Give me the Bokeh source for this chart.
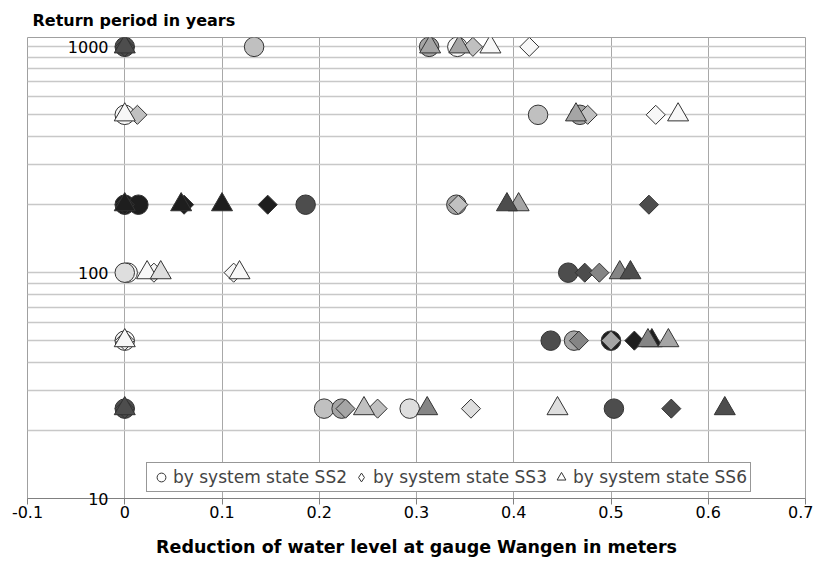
import math
from bokeh.plotting import figure
from bokeh.models import Range1d, FixedTicker, LogAxis, Legend, LegendItem, ColumnDataSource
from bokeh.transform import factor_cmap
from bokeh.embed import file_html
from bokeh.resources import INLINE

# ---------------- data ----------------
tone_levels = ["T1", "T2", "T3", "T4", "T5", "T6", "T7"]

x_ticks = [-0.1, 0, 0.1, 0.2, 0.3, 0.4, 0.5, 0.6, 0.7]
x_tick_labels = ["-0.1", "0", "0.1", "0.2", "0.3", "0.4", "0.5", "0.6", "0.7"]
y_ticks = [10, 100, 1000]
y_tick_labels = ["10", "100", "1000"]
y_minor_ticks = [20, 30, 40, 50, 60, 70, 80, 90, 200, 300, 400, 500, 600, 700, 800, 900]

# SS2 (circles)
ss2_rp = [1000, 1000, 1000, 1000, 500, 500, 500, 200, 200, 200, 200,
          100, 100, 100, 50, 50, 50, 50, 25, 25, 25, 25, 25]
ss2_x = [0.0, 0.133, 0.313, 0.342, 0.0, 0.425, 0.468, 0.0, 0.014, 0.186, 0.341,
         0.003, 0.0, 0.456, 0.0, 0.438, 0.462, 0.500, 0.0, 0.205, 0.223, 0.293, 0.503]
ss2_tone = ["T6", "T3", "T4", "T1", "T1", "T3", "T4", "T7", "T7", "T6", "T4",
            "T1", "T2", "T6", "T1", "T6", "T4", "T7", "T6", "T3", "T4", "T2", "T6"]

# SS3 (diamonds)
ss3_rp = [1000, 1000, 1000, 500, 500, 500, 200, 200, 200, 200, 200,
          100, 100, 100, 100, 50, 50, 50, 50, 25, 25, 25, 25, 25]
ss3_x = [0.0, 0.358, 0.416, 0.013, 0.476, 0.546, 0.0, 0.061, 0.147, 0.343, 0.539,
         0.030, 0.112, 0.473, 0.488, 0.0, 0.467, 0.500, 0.524, 0.0, 0.227, 0.260, 0.356, 0.562]
ss3_tone = ["T6", "T3", "T1", "T3", "T3", "T1", "T7", "T7", "T7", "T3", "T6",
            "T1", "T1", "T6", "T5", "T1", "T5", "T4", "T7", "T6", "T4", "T3", "T2", "T6"]

# SS6 (triangles)
ss6_rp = [1000, 1000, 1000, 1000, 500, 500, 500, 200, 200, 200, 200, 200,
          100, 100, 100, 100, 100, 50, 50, 50, 50, 25, 25, 25, 25, 25]
ss6_x = [0.0, 0.314, 0.344, 0.376, 0.0, 0.464, 0.569, 0.0, 0.058, 0.100, 0.405, 0.393,
         0.023, 0.037, 0.118, 0.509, 0.520, 0.0, 0.542, 0.538, 0.559, 0.0, 0.246, 0.311, 0.445, 0.617]
ss6_tone = ["T6", "T4", "T4", "T1", "T1", "T4", "T1", "T7", "T7", "T7", "T4", "T6",
            "T1", "T2", "T1", "T5", "T6", "T1", "T7", "T5", "T4", "T6", "T3", "T5", "T2", "T6"]

series_labels = ["by system state SS2", "by system state SS3", "by system state SS6"]

# ---------------- style ----------------
palette = ["#f7f7f7", "#dedede", "#c0c0c0", "#a5a5a5", "#858585", "#4d4d4d", "#1e1e1e"]
FONT = "DejaVu Sans"
EDGE = "#333333"

p = figure(width=813, height=559,
           x_range=Range1d(-0.1, 0.7), y_range=Range1d(10, 1100),
           y_axis_type="log", y_axis_location=None,
           output_backend="svg", toolbar_location=None,
           min_border_left=27, min_border_right=8,
           min_border_top=37, min_border_bottom=60)

p.background_fill_color = "white"
p.outline_line_color = "#a0a0a0"

# grids
p.xgrid.ticker = FixedTicker(ticks=x_ticks)
p.xgrid.grid_line_color = "#a8a8a8"
p.xgrid.grid_line_width = 1
p.ygrid.ticker = FixedTicker(ticks=y_ticks, minor_ticks=y_minor_ticks)
p.ygrid.grid_line_color = "#c8c8c8"
p.ygrid.grid_line_width = 1.5
p.ygrid.minor_grid_line_color = "#c8c8c8"
p.ygrid.minor_grid_line_width = 1.5

# x axis
xa = p.xaxis[0]
xa.ticker = FixedTicker(ticks=x_ticks)
xa.major_label_overrides = {t: l for t, l in zip(x_ticks, x_tick_labels)}
xa.axis_line_color = "#808080"
xa.major_tick_line_color = "#808080"
xa.major_tick_out = 6
xa.major_tick_in = 0
xa.minor_tick_line_color = None
xa.major_label_text_font = FONT
xa.major_label_text_font_size = "16px"
xa.major_label_text_color = "black"
xa.major_label_standoff = 1
xa.axis_label = "Reduction of water level at gauge Wangen in meters"
xa.axis_label_text_font = FONT
xa.axis_label_text_font_size = "17.5px"
xa.axis_label_text_font_style = "bold"
xa.axis_label_text_color = "black"
xa.axis_label_standoff = 16

# y axis: left panel, labels pulled inward so they sit just left of x = 0
ya = LogAxis(ticker=FixedTicker(ticks=y_ticks))
ya.major_label_overrides = {t: l for t, l in zip(y_ticks, y_tick_labels)}
ya.axis_line_color = None
ya.major_tick_line_color = None
ya.minor_tick_line_color = None
ya.major_tick_in = 0
ya.major_tick_out = 0
ya.major_label_standoff = -81
ya.major_label_text_font = FONT
ya.major_label_text_font_size = "16px"
ya.major_label_text_color = "black"
_props = ya.properties()
if "major_label_background_fill_color" in _props:
    ya.major_label_background_fill_color = "white"
p.add_layout(ya, "left")

# title
p.title.text = "Return period in years"
p.title.text_font = FONT
p.title.text_font_size = "16px"
p.title.text_font_style = "bold"
p.title.text_color = "black"
p.title.offset = 5
p.title.standoff = 16

cmap2 = factor_cmap("tone", palette, tone_levels)

src2 = ColumnDataSource(dict(x=ss2_x, y=ss2_rp, tone=ss2_tone))
src3 = ColumnDataSource(dict(x=ss3_x, y=ss3_rp, tone=ss3_tone))
src6 = ColumnDataSource(dict(x=ss6_x, y=ss6_rp, tone=ss6_tone))

p.scatter("x", "y", source=src2, marker="circle", size=19.5,
          fill_color=cmap2, line_color=EDGE, line_width=1)
p.scatter("x", "y", source=src3, marker="square", size=13.5, angle=math.pi / 4,
          fill_color=cmap2, line_color=EDGE, line_width=1)
p.scatter("x", "y", source=src6, marker="triangle", size=21,
          fill_color=cmap2, line_color=EDGE, line_width=1)

# legend glyphs (open markers, placed outside the visible range)
lc = p.scatter(x=[-1], y=[1], marker="circle", fill_color="white", line_color=EDGE)
ld = p.scatter(x=[-1], y=[1], marker="diamond", fill_color="white", line_color=EDGE)
lt = p.scatter(x=[-1], y=[1], marker="triangle", fill_color="white", line_color=EDGE)

legend = Legend(items=[LegendItem(label=series_labels[0], renderers=[lc]),
                       LegendItem(label=series_labels[1], renderers=[ld]),
                       LegendItem(label=series_labels[2], renderers=[lt])],
                orientation="horizontal", location=(119, 6),
                border_line_color="#303030", border_line_width=1,
                background_fill_color="white", background_fill_alpha=1,
                label_text_font=FONT, label_text_font_size="17px",
                label_standoff=1, glyph_width=22, glyph_height=22,
                spacing=3, padding=3, margin=0, label_height=18)
p.add_layout(legend)

open("out.html", "w").write(file_html(p, INLINE))
